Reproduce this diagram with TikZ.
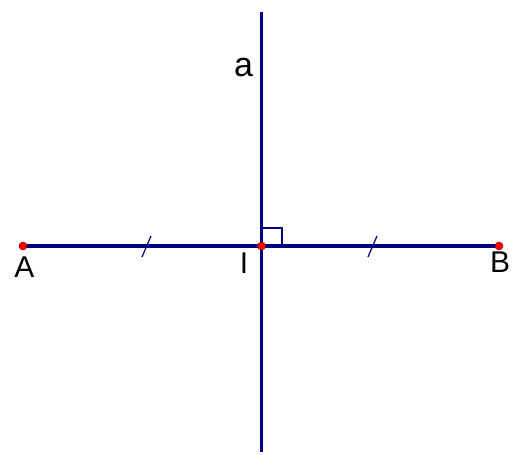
\documentclass[tikz,border=0pt]{standalone}
\usepackage{fontspec}
\setmainfont{Liberation Sans}
\begin{document}
\begin{tikzpicture}[x=1pt,y=-1pt,
  seg/.style={draw={rgb,255:red,0;green,0;blue,128},line width=3.5pt},
  thin/.style={draw={rgb,255:red,0;green,0;blue,128},line width=1.2pt},
  pt/.style={circle,fill=red,draw={rgb,255:red,150;green,0;blue,0},line width=0.5pt,inner sep=0pt,minimum size=8pt},
  lbl/.style={inner sep=0pt,font=\fontsize{30}{34}\selectfont}]
\useasboundingbox (0,0) rectangle (518,454);
\coordinate (top) at (261.5,12);
\coordinate (bot) at (261.5,452);
\coordinate (rA) at (282,246);
\coordinate (rB) at (282,228);
\coordinate (rC) at (261.5,228);
\coordinate (t1a) at (142,257);
\coordinate (t1b) at (151,236);
\coordinate (t2a) at (368,257);
\coordinate (t2b) at (377,236);
\draw[seg] (23,246) coordinate (Ac) -- (499,246) coordinate (Bc);
\draw[seg] (top) -- (bot);
\draw[thin] (rA) -- (rB) -- (rC);
\draw[thin] (t1a) -- (t1b);
\draw[thin] (t2a) -- (t2b);
\node[pt] (A) at (Ac) {};
\node[pt] (I) at (261.5,246) {};
\node[pt] (B) at (Bc) {};
\node[lbl,anchor=base] (la) at (24.5,277) {A};
\node[lbl,anchor=base] (li) at (244,273) {I};
\node[lbl,anchor=base] (lb) at (500,272) {B};
\node[lbl,anchor=base,font=\fontsize{34}{38}\selectfont] (lA) at (243.5,77) {a};
\end{tikzpicture}
\end{document}
